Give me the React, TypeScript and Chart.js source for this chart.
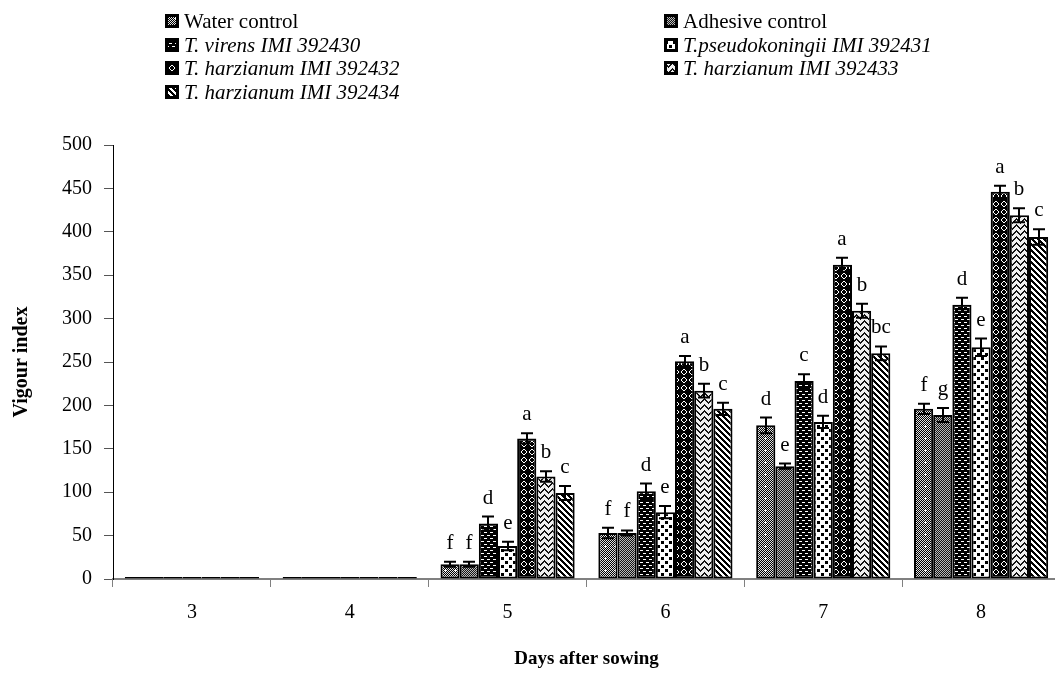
import React, { useEffect, useRef } from "react";
import { Chart, registerables } from "chart.js";
Chart.register(...registerables);

const categories = ["3", "4", "5", "6", "7", "8"];
const seriesLabels = [
  "Water control",
  "Adhesive control",
  "T. virens IMI 392430",
  "T.pseudokoningii IMI 392431",
  "T. harzianum IMI 392432",
  "T. harzianum IMI 392433",
  "T. harzianum IMI 392434",
];
const italicSeries = [false, false, true, true, true, true, true];
const yTicks = [0, 50, 100, 150, 200, 250, 300, 350, 400, 450, 500];

const waterControl = [0, 0, 17, 53, 177, 196];
const adhesiveControl = [0, 0, 17, 53, 130, 189];
const virens392430 = [0, 0, 64, 101, 228, 316];
const pseudokoningii392431 = [0, 0, 38, 77, 181, 267];
const harzianum392432 = [0, 0, 162, 251, 362, 446];
const harzianum392433 = [0, 0, 118, 217, 309, 419];
const harzianum392434 = [0, 0, 99, 196, 260, 394];

const waterErr = [0, 0, 3, 6, 9, 6];
const adhesiveErr = [0, 0, 3, 3, 3, 8];
const virensErr = [0, 0, 8, 9, 8, 8];
const pseudoErr = [0, 0, 5, 7, 7, 10];
const h432Err = [0, 0, 6, 6, 8, 7];
const h433Err = [0, 0, 6, 8, 8, 8];
const h434Err = [0, 0, 8, 7, 8, 9];

const waterLetters = ["", "", "f", "f", "d", "f"];
const adhesiveLetters = ["", "", "f", "f", "e", "g"];
const virensLetters = ["", "", "d", "d", "c", "d"];
const pseudoLetters = ["", "", "e", "e", "d", "e"];
const h432Letters = ["", "", "a", "a", "a", "a"];
const h433Letters = ["", "", "b", "b", "b", "b"];
const h434Letters = ["", "", "c", "c", "bc", "c"];

const seriesValues = [
  waterControl,
  adhesiveControl,
  virens392430,
  pseudokoningii392431,
  harzianum392432,
  harzianum392433,
  harzianum392434,
];
const seriesErrors = [waterErr, adhesiveErr, virensErr, pseudoErr, h432Err, h433Err, h434Err];
const seriesLetters = [
  waterLetters,
  adhesiveLetters,
  virensLetters,
  pseudoLetters,
  h432Letters,
  h433Letters,
  h434Letters,
];

const SERIF = "'Liberation Serif', 'Times New Roman', serif";

type PixFn = (x: number, y: number) => number; // gray level 0..255

function pixelPattern(ctx: CanvasRenderingContext2D, w: number, h: number, fn: PixFn) {
  const c = document.createElement("canvas");
  c.width = w;
  c.height = h;
  const g = c.getContext("2d")!;
  const img = g.createImageData(w, h);
  for (let y = 0; y < h; y++) {
    for (let x = 0; x < w; x++) {
      const v = fn(x, y);
      const k = (y * w + x) * 4;
      img.data[k] = v;
      img.data[k + 1] = v;
      img.data[k + 2] = v;
      img.data[k + 3] = 255;
    }
  }
  g.putImageData(img, 0, 0);
  return ctx.createPattern(c, "repeat")!;
}

function makePatterns(ctx: CanvasRenderingContext2D) {
  const water = pixelPattern(ctx, 10, 12, (x, y) => {
    const sparkle = (x === 5 && y >= 5 && y <= 7) || (y === 6 && x >= 4 && x <= 6);
    if (sparkle) return 255;
    return (x + y) % 2 ? 0 : 225;
  });
  const adhesive = pixelPattern(ctx, 2, 2, (x, y) => ((x + y) % 2 ? 20 : 185));
  const virens = pixelPattern(ctx, 6, 6, (x, y) => {
    const a = y === 1 && x >= 1 && x <= 3;
    const b = y === 4 && (x >= 4 || x === 0);
    return a || b ? 255 : 0;
  });
  const pseudo = pixelPattern(ctx, 8, 8, (x, y) => {
    const a = x >= 1 && x <= 3 && y >= 1 && y <= 3;
    const b = x >= 5 && x <= 7 && y >= 5 && y <= 7;
    return a || b ? 0 : 255;
  });
  const h432 = pixelPattern(ctx, 8, 8, (x, y) => {
    const d = Math.hypot(x + 0.5 - 4, y + 0.5 - 4);
    return d >= 1.6 && d <= 2.6 ? 255 : 0;
  });
  const h433 = pixelPattern(ctx, 8, 6, (x, y) => ((y + Math.abs(x - 4)) % 6 < 2 ? 20 : 240));
  const h434 = pixelPattern(ctx, 6, 6, (x, y) => ((x - y + 6) % 6 < 3 ? 0 : 255));
  return [water, adhesive, virens, pseudo, h432, h433, h434];
}

export default function App() {
  const ref = useRef<HTMLCanvasElement | null>(null);

  useEffect(() => {
    const canvas = ref.current!;
    const ctx = canvas.getContext("2d")!;
    const patterns = makePatterns(ctx);

    const annotPlugin = {
      id: "annot",
      afterDatasetsDraw(chart: any) {
        const c = chart.ctx;
        const ys = chart.scales.y;
        c.save();
        chart.data.datasets.forEach((ds: any, i: number) => {
          const meta = chart.getDatasetMeta(i);
          meta.data.forEach((bar: any, j: number) => {
            const v = ds.data[j];
            const e = seriesErrors[i][j];
            const l = seriesLetters[i][j];
            if (!e && !l) return;
            const top = ys.getPixelForValue(v + e);
            const bot = ys.getPixelForValue(v - e);
            const x = Math.round(bar.x);
            c.strokeStyle = "#000";
            c.lineWidth = 2;
            c.beginPath();
            c.moveTo(x, top);
            c.lineTo(x, bot);
            c.moveTo(x - 6, top);
            c.lineTo(x + 6, top);
            c.moveTo(x - 6, bot);
            c.lineTo(x + 6, bot);
            c.stroke();
            if (l) {
              c.fillStyle = "#000";
              c.font = `21px ${SERIF}`;
              c.textAlign = "center";
              c.textBaseline = "alphabetic";
              c.fillText(l, x, top - 13);
            }
          });
        });
        c.restore();
      },
    };

    const legendPlugin = {
      id: "customLegend",
      afterDraw(chart: any) {
        const c = chart.ctx;
        c.save();
        const colX = [165, 664];
        const rowY = [21, 45, 68, 92];
        seriesLabels.forEach((label, i) => {
          const col = i % 2;
          const row = Math.floor(i / 2);
          const x = colX[col];
          const y = rowY[row];
          c.fillStyle = "#000";
          c.fillRect(x, y - 7, 14, 14);
          c.fillStyle = patterns[i];
          c.fillRect(x + 3, y - 4, 8, 8);
          c.fillStyle = "#000";
          c.font = `${italicSeries[i] ? "italic " : ""}21px ${SERIF}`;
          c.textAlign = "left";
          c.textBaseline = "middle";
          c.fillText(label, x + 19, y + 1);
        });
        c.restore();
      },
    };

    const chart = new Chart(canvas, {
      type: "bar",
      data: {
        labels: categories,
        datasets: seriesLabels.map((label, i) => ({
          label,
          data: seriesValues[i],
          backgroundColor: patterns[i],
          borderColor: "#000",
          borderWidth: 2,
          borderSkipped: false,
          barPercentage: 1,
          categoryPercentage: 0.85,
          minBarLength: 2,
        })),
      },
      options: {
        responsive: false,
        animation: false,
        layout: { padding: { left: 0, top: 145, right: 0, bottom: 0 } },
        plugins: {
          legend: { display: false },
          tooltip: { enabled: false },
        },
        scales: {
          x: {
            afterFit: (scale: any) => {
              scale.height = 94;
            },
            grid: {
              offset: true,
              drawOnChartArea: false,
              drawTicks: true,
              tickLength: 8,
              color: "#808080",
              lineWidth: 1,
            },
            border: { color: "#808080", width: 2 },
            ticks: {
              font: { family: SERIF, size: 20 },
              color: "#000",
              padding: 14,
            },
            title: {
              display: true,
              text: "Days after sowing",
              font: { family: SERIF, size: 19, weight: "bold" },
              color: "#000",
              padding: { top: 0, bottom: 3 },
            },
          },
          y: {
            min: 0,
            max: 500,
            afterBuildTicks: (axis: any) => {
              axis.ticks = yTicks.map((v) => ({ value: v }));
            },
            afterFit: (scale: any) => {
              scale.width = 113;
            },
            grid: {
              drawOnChartArea: false,
              drawTicks: true,
              tickLength: 9,
              color: "#555",
            },
            border: { color: "#000", width: 1 },
            ticks: {
              font: { family: SERIF, size: 20 },
              color: "#000",
              padding: 12,
            },
            title: {
              display: true,
              text: "Vigour index",
              font: { family: SERIF, size: 20, weight: "bold" },
              color: "#000",
              padding: { top: 10, bottom: 0 },
            },
          },
        },
      },
      plugins: [annotPlugin, legendPlugin],
    } as any);

    return () => chart.destroy();
  }, []);

  return (
    <div
      style={{
        position: "absolute",
        left: 0,
        top: 0,
        width: 1055,
        height: 673,
        overflow: "hidden",
        background: "#fff",
      }}
    >
      <canvas ref={ref} width={1060} height={673} style={{ display: "block" }} />
    </div>
  );
}
